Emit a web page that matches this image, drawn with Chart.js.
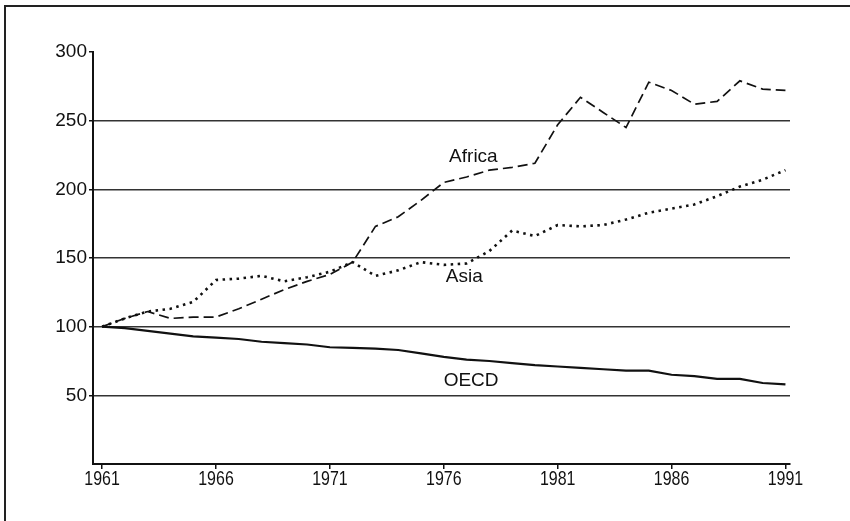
<!DOCTYPE html>
<html>
<head>
<meta charset="utf-8">
<script src="https://cdn.jsdelivr.net/npm/chart.js@4/dist/chart.umd.min.js"></script>
<style>
  html, body { margin: 0; padding: 0; background: #fff; }
  #wrap { position: relative; width: 850px; height: 521px; }
  #frame { position: absolute; left: 4px; top: 5px; right: 0; bottom: 0;
           border-left: 2px solid #222; border-top: 2px solid #222; pointer-events: none; }
  canvas { position: absolute; left: 0; top: 0; }
</style>
</head>
<body>
<div id="wrap">
  <canvas id="myChart" width="850" height="521"></canvas>
  <div id="frame"></div>
</div>
<script>
const years = [];
for (let y = 1961; y <= 1991; y++) years.push(y);

const africa = [100, 106, 111, 106, 107, 107, 113, 120, 127, 133, 138, 147, 173, 180, 192, 205,
  209, 214, 216, 219, 247, 267, 256, 245, 278, 272, 262, 264, 279, 273, 272];
const asia = [100, 106, 111, 113, 118, 134, 135, 137, 133, 136, 140, 147, 137, 141, 147, 145,
  146, 155, 170, 166, 174, 173, 174, 178, 183, 186, 189, 195, 202, 207, 214];
const oecd = [100, 99, 97, 95, 93, 92, 91, 89, 88, 87, 85, 84.5, 84, 83, 80.5, 78,
  76, 75, 73.5, 72, 71, 70, 69, 68, 68, 65, 64, 62, 62, 59, 58];

const xTickLabels = [1961, 1966, 1971, 1976, 1981, 1986, 1991];
const yTickLabels = [50, 100, 150, 200, 250, 300];

// series names written inside the plot, anchored in data units
const labelNames = ['Africa', 'Asia', 'OECD'];
const labelYears = [1977.3, 1976.9, 1977.2];
const labelValues = [224, 136, 60.5];

function toPoints(vals) {
  return vals.map((v, i) => ({ x: years[i], y: v }));
}

const seriesLabels = {
  id: 'seriesLabels',
  afterDatasetsDraw(chart) {
    const c = chart.ctx;
    const xs = chart.scales.x, ys = chart.scales.y;
    c.save();
    c.fillStyle = '#111';
    c.font = '19px "Liberation Sans", Arial, sans-serif';
    c.textAlign = 'center';
    c.textBaseline = 'middle';
    labelNames.forEach((name, i) => {
      c.fillText(name, xs.getPixelForValue(labelYears[i]), ys.getPixelForValue(labelValues[i]));
    });
    c.restore();
  }
};

// the year labels are set in a narrow face: draw them squeezed horizontally
const narrowYears = {
  id: 'narrowYears',
  afterDraw(chart) {
    const c = chart.ctx;
    const xs = chart.scales.x;
    const squeeze = 0.76;
    c.save();
    c.fillStyle = '#111';
    c.font = 'normal 400 21px "Liberation Sans", Arial, sans-serif';
    c.textAlign = 'center';
    c.textBaseline = 'top';
    c.scale(squeeze, 1);
    xTickLabels.forEach(v => {
      c.fillText(String(v), xs.getPixelForValue(v) / squeeze, xs.top + 5);
    });
    c.restore();
  }
};

const ctx = document.getElementById('myChart').getContext('2d');

let chart = new Chart(ctx, {
  type: 'line',
  data: {
    datasets: [{
      label: 'Africa',
      data: toPoints(africa),
      borderColor: '#111',
      borderWidth: 1.7,
      borderDash: [10, 5],
      pointRadius: 0,
      tension: 0
    }, {
      label: 'Asia',
      data: toPoints(asia),
      borderColor: '#111',
      borderWidth: 2.6,
      borderDash: [2.5, 4.5],
      pointRadius: 0,
      tension: 0
    }, {
      label: 'OECD',
      data: toPoints(oecd),
      borderColor: '#111',
      borderWidth: 2.2,
      pointRadius: 0,
      tension: 0
    }]
  },
  options: {
    responsive: false,
    animation: false,
    layout: { padding: { left: 0, top: 52, right: 60, bottom: 0 } },
    plugins: {
      legend: { display: false },
      tooltip: { enabled: false }
    },
    scales: {
      x: {
        type: 'linear',
        min: 1960.6,
        max: 1991.2,
        afterBuildTicks: (scale) => {
          scale.ticks = xTickLabels.map(v => ({ value: v }));
        },
        afterFit: (scale) => { scale.height = 57; },
        border: { display: true, color: '#111', width: 2 },
        grid: { drawOnChartArea: false, color: '#111', tickLength: 5, lineWidth: 1.5 },
        ticks: { display: false }
      },
      y: {
        min: 0,
        max: 300,
        afterBuildTicks: (scale) => {
          scale.ticks = yTickLabels.map(v => ({ value: v }));
        },
        afterFit: (scale) => { scale.width = 93; },
        border: { display: true, color: '#111', width: 2 },
        grid: {
          color: (c) => (c.tick && c.tick.value < 300) ? '#333' : 'rgba(0,0,0,0)',
          tickColor: '#111',
          lineWidth: 1.5,
          tickLength: 4
        },
        ticks: {
          color: '#111',
          padding: 2,
          font: { family: '"Liberation Sans", Arial, sans-serif', size: 19 }
        }
      }
    }
  },
  plugins: [seriesLabels, narrowYears]
});
</script>
</body>
</html>
